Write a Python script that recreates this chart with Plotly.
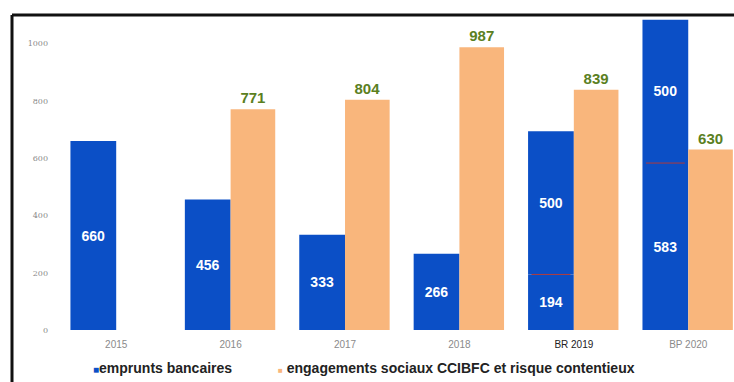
import plotly.graph_objects as go

# Data (k€)
categories = ["2015", "2016", "2017", "2018", "BR 2019", "BP 2020"]
emprunts = [660, 456, 333, 266, 194, 583]          # bank loans (base segment)
emprunts_nouveaux = [None, None, None, None, 500, 500]  # new loans stacked on top
engagements = [None, 771, 804, 987, 839, 630]      # social commitments & litigation risk
y_ticks = [0, 200, 400, 600, 800, 1000]

BLUE = "#0b4fc6"
ORANGE = "#f9b67c"
GREEN = "#5b801f"
FONT = "Liberation Sans, Arial, sans-serif"

# plot area geometry (px)
L, T, B, W, H = 59, 15, 52, 734, 382
PW, PH = W - L, H - T - B

def px_y(py):
    return (H - B - py) / PH

def px_x(px):
    return (px - L) / PW

fig = go.Figure()

fig.add_trace(go.Bar(
    x=categories, y=emprunts, offset=-0.40, width=0.40,
    marker=dict(color=BLUE, line=dict(width=0)),
    text=[str(v) for v in emprunts], textposition="inside",
    insidetextanchor="middle",
    textfont=dict(family=FONT, size=14, color="white", weight="bold"),
    name="emprunts bancaires", showlegend=False,
))

fig.add_trace(go.Bar(
    x=categories, y=emprunts_nouveaux, base=emprunts, offset=-0.40, width=0.40,
    marker=dict(color=BLUE, line=dict(width=0)),
    text=[str(v) if v else "" for v in emprunts_nouveaux], textposition="inside",
    insidetextanchor="middle",
    textfont=dict(family=FONT, size=14, color="white", weight="bold"),
    showlegend=False,
))

fig.add_trace(go.Bar(
    x=categories, y=engagements, offset=0.0, width=0.39,
    marker=dict(color=ORANGE, line=dict(width=0)),
    text=[str(v) if v else "" for v in engagements], textposition="outside",
    textfont=dict(family=FONT, size=15, color=GREEN, weight="bold"),
    cliponaxis=False,
    name="engagements sociaux CCIBFC et risque contentieux", showlegend=False,
))

shapes = []
# thin separators between stacked loan segments
for i, (b, t) in enumerate(zip(emprunts, emprunts_nouveaux)):
    if t:
        shapes.append(dict(type="line", xref="x", yref="y",
                           x0=i - 0.37, x1=i - 0.03, y0=b, y1=b,
                           line=dict(color="#b03a3a", width=1)))

# frame around the chart (left and top edges)
shapes.append(dict(type="line", xref="paper", yref="paper",
                   x0=px_x(12), x1=px_x(12), y0=px_y(H + 5), y1=1.0,
                   line=dict(color="#111", width=3)))
shapes.append(dict(type="line", xref="paper", yref="paper",
                   x0=px_x(12), x1=1.05, y0=1.0, y1=1.0,
                   line=dict(color="#111", width=3)))

tick_text = [
    f'<span style="color:#222">{c}</span>' if c == "BR 2019" else c
    for c in categories
]

legend_y = px_y(368)

fig.update_layout(
    width=W, height=H,
    margin=dict(l=L, r=0, t=T, b=B),
    paper_bgcolor="white", plot_bgcolor="white",
    barmode="overlay",
    shapes=shapes,
    xaxis=dict(
        type="category", range=[-0.5, 5.4],
        tickvals=categories, ticktext=tick_text,
        tickfont=dict(family=FONT, size=10, color="#8a8a8a"),
        ticklabelstandoff=7,
        showgrid=False, showline=False, zeroline=False, ticks="",
    ),
    yaxis=dict(
        range=[0, 1100], tickvals=y_ticks,
        tickfont=dict(family="DejaVu Serif, serif", size=8, color="#8a8a8a"),
        ticklabelstandoff=10,
        showgrid=False, showline=False, zeroline=False, ticks="",
    ),
    annotations=[
        dict(xref="paper", yref="paper", x=px_x(91), y=legend_y,
             xanchor="left", yanchor="middle", showarrow=False,
             text=f'<span style="color:{BLUE};font-size:10px">■</span>emprunts bancaires',
             font=dict(family=FONT, size=14, color="#222", weight="bold")),
        dict(xref="paper", yref="paper", x=px_x(276), y=legend_y,
             xanchor="left", yanchor="middle", showarrow=False,
             text=f'<span style="color:{ORANGE};font-size:8px">■</span> engagements sociaux CCIBFC et risque contentieux',
             font=dict(family=FONT, size=14, color="#222", weight="bold")),
    ],
)

fig.write_html("out.html")
